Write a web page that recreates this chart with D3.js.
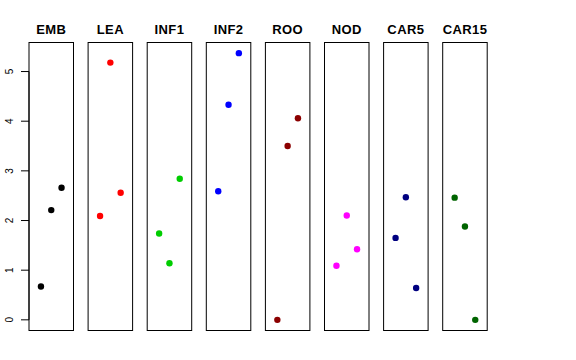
<!DOCTYPE html>
<html>
<head>
<meta charset="utf-8">
<script src="https://cdn.jsdelivr.net/npm/d3@7"></script>
<style>
  body { margin: 0; background: #fff; }
  text { font-family: "Liberation Sans", Arial, sans-serif; }
</style>
</head>
<body>
<svg width="576" height="360"></svg>
<script>
const groups = ["EMB", "LEA", "INF1", "INF2", "ROO", "NOD", "CAR5", "CAR15"]
const colors = ["#000000", "#ff0000", "#00cd00", "#0000ff", "#8b0000", "#ff00ff", "#000080", "#006400"]
// three replicates per group, left to right
const rep1 = [0.67, 2.09, 1.74, 2.59, 0.00, 1.09, 1.65, 2.46]
const rep2 = [2.21, 5.18, 1.14, 4.33, 3.50, 2.10, 2.47, 1.88]
const rep3 = [2.66, 2.56, 2.84, 5.37, 4.06, 1.42, 0.64, 0.00]
const yTicks = [0, 1, 2, 3, 4, 5]

const svg = d3.select("svg")

const plotTop = 42.5, plotBottom = 330.5
const boxW = 44.5, step = 59.1, left0 = 29

const allVals = rep1.concat(rep2, rep3)
const yMin = d3.min(allVals), yMax = d3.max(allVals)
const pad = (yMax - yMin) * 0.04
const y = d3.scaleLinear().domain([yMin - pad, yMax + pad]).range([plotBottom, plotTop])
const x = d3.scaleLinear().domain([-0.16, 4.16]).range([0, boxW])

// y axis on the first panel
const axis = svg.append("g").attr("transform", `translate(${left0},0)`)
axis.append("line")
    .attr("x1", 0).attr("x2", 0)
    .attr("y1", y(0)).attr("y2", y(5))
    .style("stroke", "#000")
axis.selectAll("line.tick")
    .data(yTicks)
    .join("line")
    .attr("class", "tick")
    .attr("x1", -8).attr("x2", 0)
    .attr("y1", d => y(d)).attr("y2", d => y(d))
    .style("stroke", "#000")
axis.selectAll("text")
    .data(yTicks)
    .join("text")
    .text(d => d)
    .attr("transform", d => `translate(-15.5,${y(d)}) rotate(-90)`)
    .attr("text-anchor", "middle")
    .attr("dy", "-0.05em")
    .style("font-size", "10px")

const panels = svg.selectAll("g.panel")
    .data(groups.map((g, i) => ({ name: g, color: colors[i], vals: [rep1[i], rep2[i], rep3[i]] })))
    .join("g")
    .attr("class", "panel")
    .attr("transform", (d, i) => `translate(${left0 + i * step},0)`)

panels.append("rect")
    .attr("x", 0).attr("y", plotTop)
    .attr("width", boxW).attr("height", plotBottom - plotTop)
    .style("fill", "none")
    .style("stroke", "#000")
    .style("stroke-width", 1)

panels.append("text")
    .text(d => d.name)
    .attr("x", boxW / 2)
    .attr("y", 34)
    .attr("text-anchor", "middle")
    .style("font-size", "13px")
    .style("font-weight", "bold")
    .style("letter-spacing", "0.4px")

panels.selectAll("circle")
    .data(d => d.vals.map((v, j) => ({ v, j, color: d.color })))
    .join("circle")
    .attr("cx", d => x(d.j + 1))
    .attr("cy", d => y(d.v))
    .attr("r", 3.2)
    .style("fill", d => d.color)
</script>
</body>
</html>
